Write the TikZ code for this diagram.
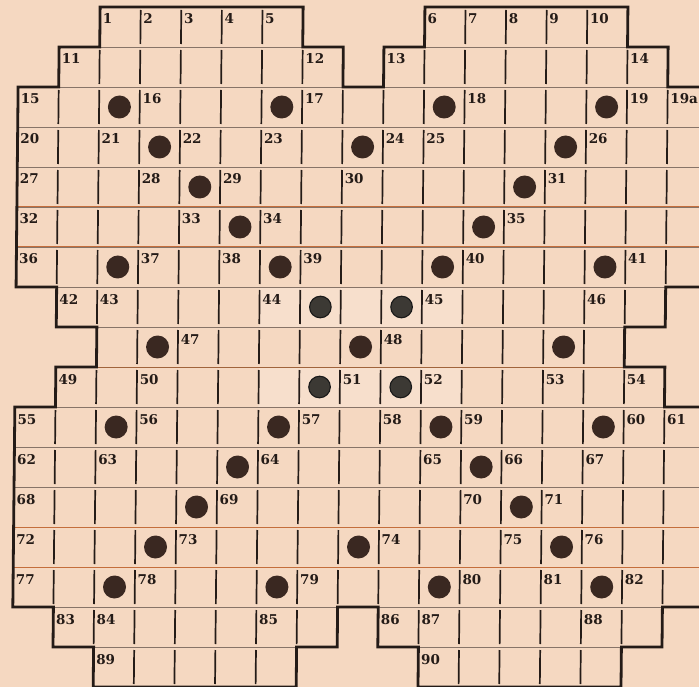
\documentclass[tikz,border=0pt]{standalone}
\usepackage{fontspec}
\setmainfont{DejaVu Serif}
\definecolor{paper}{RGB}{245,216,193}
\definecolor{paperlight}{RGB}{247,223,204}
\definecolor{ink}{RGB}{36,27,23}
\definecolor{gridgrey}{RGB}{135,116,104}
\definecolor{gridorange}{RGB}{196,110,60}
\definecolor{gridbrown}{RGB}{160,100,60}
\definecolor{dotbrown}{RGB}{58,40,33}
\definecolor{dotgrey}{RGB}{60,57,52}
\tikzset{
  hline/.style={draw=gridgrey, line width=0.9pt},
  oline/.style={draw=gridorange, line width=1pt},
  bline/.style={draw=gridbrown, line width=1pt},
  bar/.style={draw=ink, line width=1.7pt},
  outline/.style={draw=ink, line width=2.8pt, line join=miter},
  num/.style={anchor=base west, inner sep=0pt, xshift=2.5pt, yshift=-17pt,
    font=\bfseries\fontsize{13.5}{14}\selectfont, text=ink},
  dotb/.style={fill=dotbrown},
  dotg/.style={fill=dotgrey, draw=black!90, line width=1.1pt}
}
\begin{document}
\begin{tikzpicture}[x=1pt,y=-1pt]
\fill[paper] (0,0) rectangle (699,687);
\useasboundingbox (0,0) rectangle (699,687);
\begin{scope}[xslant=0.0102, shift={(19,7)}, x=40.6pt, y=-40pt]
  % lighter patches in the centre
  \fill[paperlight] (6,7) rectangle (11,8);
  \fill[paperlight] (6,9) rectangle (11,10);
  % thin row lines and cell bars
  \foreach \r/\a/\b in {0/2/6,0/10/14,1/1/7,1/9/15,2/0/16,3/0/16,4/0/16,5/0/16,6/0/16,7/1/15,8/2/14,9/1/15,10/0/16,11/0/16,12/0/16,13/0/16,14/0/16,15/1/7,15/9/15,16/2/6,16/10/14}{
    \draw[hline] (\a,\r) -- (\b+1,\r);
    \draw[hline] (\a,\r+1) -- (\b+1,\r+1);
    \pgfmathtruncatemacro\aa{\a+1}
    \foreach \c in {\aa,...,\b}{
      \draw[bar] (\c,\r+0.075) -- (\c,\r+0.925);
    }
  }
  \foreach \r in {5,6,13,14}{\draw[oline] (0,\r) -- (17,\r);}
  \draw[bline] (1,9) -- (16,9);
  % outline
  \draw[outline] (2,0) -- (7,0) -- (7,1) -- (8,1) -- (8,2) -- (9,2) -- (9,1) -- (10,1) -- (10,0) -- (15,0) -- (15,1) -- (16,1) -- (16,2) -- (17,2) -- (17,7) -- (16,7) -- (16,8) -- (15,8) -- (15,9) -- (16,9) -- (16,10) -- (17,10) -- (17,15) -- (16,15) -- (16,16) -- (15,16) -- (15,17) -- (10,17) -- (10,16) -- (9,16) -- (9,15) -- (8,15) -- (8,16) -- (7,16) -- (7,17) -- (2,17) -- (2,16) -- (1,16) -- (1,15) -- (0,15) -- (0,10) -- (1,10) -- (1,9) -- (2,9) -- (2,8) -- (1,8) -- (1,7) -- (0,7) -- (0,2) -- (1,2) -- (1,1) -- (2,1) -- cycle;
  % dots
  \foreach \r/\c in {2/2,2/6,2/10,2/14,3/3,3/8,3/13,4/4,4/12,5/5,5/11,6/2,6/6,6/10,6/14,8/3,8/8,8/13,10/2,10/6,10/10,10/14,11/5,11/11,12/4,12/12,13/3,13/8,13/13,14/2,14/6,14/10,14/14}{
    \fill[dotb] (\c+0.5,\r+0.5) circle[radius=11.5pt];
  }
  \foreach \r/\c in {7/7,7/9,9/7,9/9}{
    \filldraw[dotg] (\c+0.5,\r+0.5) circle[radius=10.8pt];
  }
  % numbers
  \foreach \r/\c/\t in {0/2/1,0/3/2,0/4/3,0/5/4,0/6/5,0/10/6,0/11/7,0/12/8,0/13/9,0/14/10,
    1/1/11,1/7/12,1/9/13,1/15/14,
    2/0/15,2/3/16,2/7/17,2/11/18,2/15/19,2/16/19a,
    3/0/20,3/2/21,3/4/22,3/6/23,3/9/24,3/10/25,3/14/26,
    4/0/27,4/3/28,4/5/29,4/8/30,4/13/31,
    5/0/32,5/4/33,5/6/34,5/12/35,
    6/0/36,6/3/37,6/5/38,6/7/39,6/11/40,6/15/41,
    7/1/42,7/2/43,7/6/44,7/10/45,7/14/46,
    8/4/47,8/9/48,
    9/1/49,9/3/50,9/8/51,9/10/52,9/13/53,9/15/54,
    10/0/55,10/3/56,10/7/57,10/9/58,10/11/59,10/15/60,10/16/61,
    11/0/62,11/2/63,11/6/64,11/10/65,11/12/66,11/14/67,
    12/0/68,12/5/69,12/11/70,12/13/71,
    13/0/72,13/4/73,13/9/74,13/12/75,13/14/76,
    14/0/77,14/3/78,14/7/79,14/11/80,14/13/81,14/15/82,
    15/1/83,15/2/84,15/6/85,15/9/86,15/10/87,15/14/88,
    16/2/89,16/10/90}{
    \node[num] (n\t) at (\c,\r) {\t};
  }
\end{scope}
\end{tikzpicture}
\end{document}
